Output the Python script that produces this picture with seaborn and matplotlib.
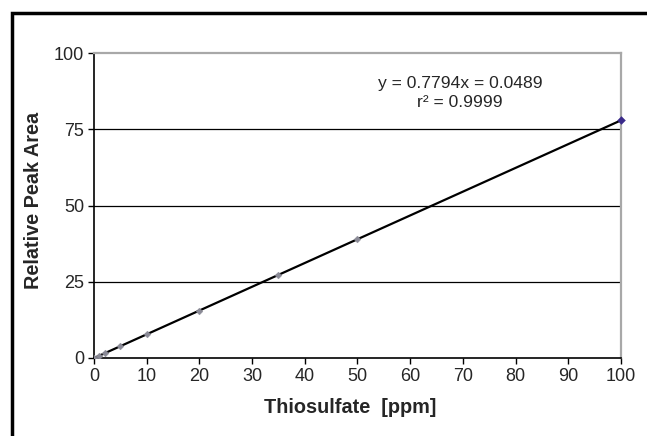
import matplotlib
matplotlib.use("Agg")
import matplotlib.pyplot as plt
import seaborn as sns
import pandas as pd
from matplotlib.patches import Rectangle

# calibration points
conc_ppm = [0, 1, 2, 5, 10, 20, 35, 50, 100]
peak_area = [0.0, 0.75, 1.5, 3.85, 7.8, 15.5, 27.3, 39.0, 77.9]
y_ticks = [0, 25, 50, 75, 100]
x_ticks = [0, 10, 20, 30, 40, 50, 60, 70, 80, 90, 100]

df = pd.DataFrame({'conc': conc_ppm, 'area': peak_area})

sns.set_style('white')
plt.rcParams['font.family'] = ['Liberation Sans', 'DejaVu Sans']

fig = plt.figure(figsize=(6.47, 4.36), dpi=100)
ax = fig.add_axes([0.1453, 0.1789, 0.8145, 0.6995])

# outer chart border (clipped at right/bottom like the original)
fig.patches.append(Rectangle((12 / 647, -0.05), 1.1, 1 - 13 / 436 + 0.05,
                             transform=fig.transFigure, fill=False,
                             edgecolor='black', linewidth=2.5, zorder=0))

for yv in y_ticks[1:-1]:
    ax.axhline(yv, color='black', linewidth=0.9, zorder=1)

sns.regplot(data=df, x='conc', y='area', ci=None, ax=ax,
            scatter=False, line_kws={'color': 'black', 'linewidth': 1.6, 'zorder': 3})
sns.scatterplot(data=df.iloc[:-1], x='conc', y='area', ax=ax, marker='D', s=12,
                color='#8a8a96', edgecolor='#8a8a96', zorder=4)
sns.scatterplot(data=df.iloc[-1:], x='conc', y='area', ax=ax, marker='D', s=16,
                color='#3a2a8a', edgecolor='#3a2a8a', zorder=5, clip_on=False)

ax.set_xlim(0, 100)
ax.set_ylim(0, 100)
ax.set_xticks(x_ticks)
ax.set_yticks(y_ticks)
ax.tick_params(axis='both', labelsize=13, length=4, width=1, color='black',
               direction='out', pad=3)
ax.tick_params(axis='x', bottom=True)
ax.tick_params(axis='y', left=True)

for side in ['left', 'bottom']:
    ax.spines[side].set_color('black')
    ax.spines[side].set_linewidth(1.2)
for side in ['top', 'right']:
    ax.spines[side].set_color('#a8a8a8')
    ax.spines[side].set_linewidth(1.6)

ax.set_xlabel('Thiosulfate  [ppm]', fontsize=14.3, fontweight='bold')
ax.xaxis.set_label_coords(0.486, -0.13)
ax.set_ylabel('Relative Peak Area', fontsize=14.3, fontweight='bold')
ax.yaxis.set_label_coords(-0.097, 0.515)

ax.text(69.5, 90.0, 'y = 0.7794x = 0.0489', ha='center', va='center', fontsize=12.6)
ax.text(69.5, 83.7, 'r² = 0.9999', ha='center', va='center', fontsize=12.6)

fig.savefig('out.png', dpi=100)
